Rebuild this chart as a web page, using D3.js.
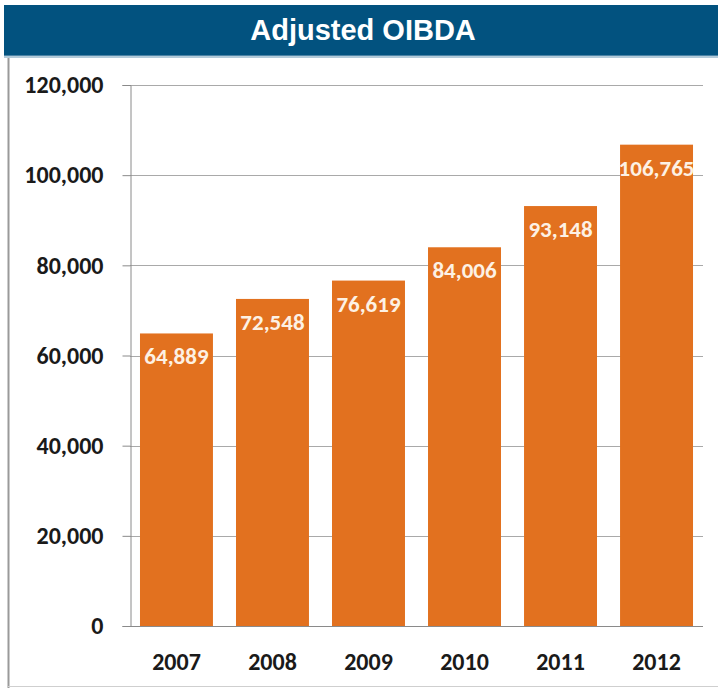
<!DOCTYPE html>
<html>
<head>
<meta charset="utf-8">
<script src="https://cdn.jsdelivr.net/npm/d3@7"></script>
<style>
  html, body { margin: 0; padding: 0; background: #ffffff; }
  svg { display: block; }
</style>
</head>
<body>
<svg id="chart" width="718" height="688"></svg>
<script>
// Adjusted OIBDA by year
const years = ["2007", "2008", "2009", "2010", "2011", "2012"];
const oibda = [64889, 72548, 76619, 84006, 93148, 106765];
const yTicks = [0, 20000, 40000, 60000, 80000, 100000, 120000];
const title = "Adjusted OIBDA";

const svg = d3.select("#chart");
const W = 718, H = 688;

// Title banner
svg.append("rect")
  .attr("x", 4).attr("y", 5).attr("width", W - 4).attr("height", 51)
  .attr("fill", "#02527f");
svg.append("rect")
  .attr("x", 4).attr("y", 55).attr("width", W - 4).attr("height", 3)
  .attr("fill", "#7fa6bf").attr("opacity", 0.6);
svg.append("text")
  .attr("x", 363).attr("y", 40)
  .attr("text-anchor", "middle")
  .attr("fill", "#ffffff")
  .attr("font-family", "'Liberation Sans', Arial, sans-serif")
  .attr("font-weight", "bold")
  .attr("font-size", 29)
  .text(title);

// Panel frame
svg.append("line").attr("x1", 8.5).attr("x2", 8.5).attr("y1", 58).attr("y2", 688)
  .attr("stroke", "#9a9a9a").attr("stroke-width", 2);
svg.append("line").attr("x1", 8).attr("x2", W).attr("y1", 686.5).attr("y2", 686.5)
  .attr("stroke", "#cfcfcf").attr("stroke-width", 1);

// Scales
const x = d3.scaleBand().domain(years).range([130, 703])
  .paddingInner(0.24).paddingOuter(0.104);
const y = d3.scaleLinear().domain([0, 120000]).range([626, 85]);

const labelFont = "Carlito, 'Open Sans', 'Liberation Sans', sans-serif";

// Gridlines
svg.append("g").selectAll("line").data(yTicks.filter(d => d > 0)).join("line")
  .attr("x1", 130).attr("x2", 703)
  .attr("y1", d => Math.round(y(d)) + 0.5).attr("y2", d => Math.round(y(d)) + 0.5)
  .attr("stroke", "#a9a9a9").attr("stroke-width", 1);

// Y axis
const yAxis = svg.append("g")
  .attr("transform", "translate(130.5,0)")
  .call(d3.axisLeft(y).tickValues(yTicks).tickSize(8).tickPadding(19)
    .tickFormat(d3.format(",")));
yAxis.select(".domain").attr("stroke", "#8a8a8a");
yAxis.selectAll(".tick line").attr("stroke", "#8a8a8a");
yAxis.selectAll(".tick text")
  .attr("fill", "#1a1a1a")
  .attr("font-family", labelFont)
  .attr("font-weight", "bold")
  .attr("font-size", 24);

// Bars
svg.append("g").selectAll("rect").data(years).join("rect")
  .attr("x", d => x(d))
  .attr("y", (d, i) => y(oibda[i]))
  .attr("width", x.bandwidth())
  .attr("height", (d, i) => y(0) - y(oibda[i]))
  .attr("fill", "#e2711f");

// Baseline
svg.append("line").attr("x1", 130).attr("x2", 703)
  .attr("y1", 626.5).attr("y2", 626.5)
  .attr("stroke", "#8a8a8a");

// Value labels inside bar tops
svg.append("g").selectAll("text").data(years).join("text")
  .attr("x", d => x(d) + x.bandwidth() / 2)
  .attr("y", (d, i) => y(oibda[i]) + 31)
  .attr("text-anchor", "middle")
  .attr("fill", "#fdf1e4")
  .attr("font-family", labelFont)
  .attr("font-weight", "bold")
  .attr("font-size", 23)
  .text((d, i) => d3.format(",")(oibda[i]));

// Category labels
svg.append("g").selectAll("text").data(years).join("text")
  .attr("x", d => x(d) + x.bandwidth() / 2)
  .attr("y", 670)
  .attr("text-anchor", "middle")
  .attr("fill", "#1a1a1a")
  .attr("font-family", labelFont)
  .attr("font-weight", "bold")
  .attr("font-size", 24)
  .text(d => d);
</script>
</body>
</html>
